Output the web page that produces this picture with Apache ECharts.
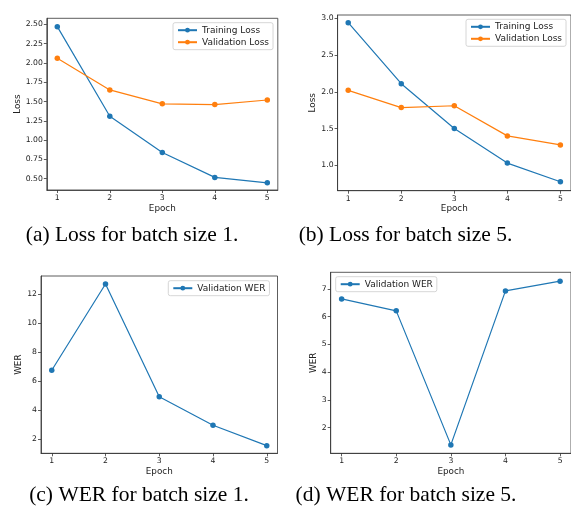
<!DOCTYPE html>
<html><head><meta charset="utf-8">
<script src="https://cdn.jsdelivr.net/npm/echarts@6/dist/echarts.min.js"></script>
<style>html,body{margin:0;padding:0;background:#fff}#c{width:571px;height:520px}</style>
</head><body><div id="c"></div><script>
const epochs=[1,2,3,4,5];
const trainLossBs1=[2.47,1.31,0.84,0.517,0.447];
const valLossBs1=[2.06,1.65,1.47,1.46,1.52];
const trainLossBs5=[2.94,2.11,1.50,1.03,0.775];
const valLossBs5=[2.02,1.785,1.81,1.40,1.277];
const valWerBs1=[6.76,12.71,4.93,2.97,1.56];
const valWerBs5=[6.64,6.21,1.38,6.93,7.28];
const xTicks=[1,2,3,4,5];
const yTicksA=[0.5,0.75,1.0,1.25,1.5,1.75,2.0,2.25,2.5];
const yTicksB=[1.0,1.5,2.0,2.5,3.0];
const yTicksC=[2,4,6,8,10,12];
const yTicksD=[2,3,4,5,6,7];
const captions=['(a) Loss for batch size 1.','(b) Loss for batch size 5.','(c) WER for batch size 1.','(d) WER for batch size 5.'];

const BLUE='#1f77b4', ORANGE='#ff7f0e';
const SANS='DejaVu Sans';
const pairs=a=>epochs.map((e,i)=>[e,a[i]]);

const grids=[
 {left:46.8, top:18.3, width:231, height:171.7},
 {left:337.6, top:15, width:234.8, height:175.7},
 {left:41, top:276, width:236.5, height:177.3},
 {left:330.7, top:272.3, width:242, height:181}
].map(g=>Object.assign({show:true,borderColor:'#333',borderWidth:0.8,backgroundColor:'transparent'},g));

const yCfg=[
 {min:0.354,max:2.578,ticks:yTicksA,dec:2,name:'Loss',gap:20},
 {min:0.654,max:3.045,ticks:yTicksB,dec:1,name:'Loss',gap:18},
 {min:1.034,max:13.26,ticks:yTicksC,dec:0,name:'WER',gap:16},
 {min:1.077,max:7.60,ticks:yTicksD,dec:0,name:'WER',gap:12}
];

const axisCommon={
 axisLine:{show:true,lineStyle:{color:'#333',width:0.8}},
 axisTick:{show:true,inside:false,length:3,lineStyle:{color:'#333',width:0.8}},
 splitLine:{show:false}
};

const xAxis=grids.map((g,i)=>Object.assign({},axisCommon,{
 type:'value',gridIndex:i,min:0.8,max:5.2,
 name:'Epoch',nameLocation:'middle',nameGap:14,
 nameTextStyle:{fontFamily:SANS,fontSize:8.8,color:'#222'},
 axisTick:Object.assign({},axisCommon.axisTick,{customValues:xTicks}),
 axisLabel:{customValues:xTicks,fontFamily:SANS,fontSize:7.7,color:'#222',margin:4}
}));

const yAxis=yCfg.map((c,i)=>Object.assign({},axisCommon,{
 type:'value',gridIndex:i,min:c.min,max:c.max,
 name:c.name,nameLocation:'middle',nameGap:c.gap,nameRotate:90,
 nameTextStyle:{fontFamily:SANS,fontSize:8.8,color:'#222'},
 axisTick:Object.assign({},axisCommon.axisTick,{customValues:c.ticks}),
 axisLabel:{customValues:c.ticks,fontFamily:SANS,fontSize:7.7,color:'#222',margin:4,
   formatter:v=>v.toFixed(c.dec)}
}));

function line(name,data,color,gi){
 return {type:'line',name:name,xAxisIndex:gi,yAxisIndex:gi,data:pairs(data),
  symbol:'circle',symbolSize:5.5,showSymbol:true,
  lineStyle:{color:color,width:1.2},itemStyle:{color:color},
  emphasis:{disabled:true},animation:false};
}

const series=[
 line('Training Loss',trainLossBs1,BLUE,0),
 line('Validation Loss',valLossBs1,ORANGE,0),
 line('Training Loss',trainLossBs5,BLUE,1),
 line('Validation Loss',valLossBs5,ORANGE,1),
 line('Validation WER',valWerBs1,BLUE,2),
 line('Validation WER',valWerBs5,BLUE,3)
];

function legend(names,left,top){
 return {data:names,orient:'vertical',left:left,top:top,padding:[3,4,3,4],
  itemWidth:19,itemHeight:6,itemGap:3,selectedMode:false,
  textStyle:{fontFamily:SANS,fontSize:9,color:'#222'},
  borderColor:'#ccc',borderWidth:0.8,borderRadius:2,backgroundColor:'rgba(255,255,255,0.8)'};
}
const legends=[
 legend(['Training Loss','Validation Loss'],173,22.7),
 legend(['Training Loss','Validation Loss'],466,19.3),
 legend(['Validation WER'],168.3,280.7),
 legend(['Validation WER'],335.7,276.7)
];

const capPos=[[132,235.5],[405.5,235.5],[139,495.5],[406,495.5]];
const graphic=captions.map((t,i)=>({type:'text',x:capPos[i][0],y:capPos[i][1],
 style:{text:t,fontFamily:'Liberation Serif',fontSize:21.5,fill:'#000',align:'center',verticalAlign:'middle'}}));

const chart=echarts.init(document.getElementById('c'),null,{renderer:'canvas'});
chart.setOption({backgroundColor:'#fff',animation:false,grid:grids,xAxis:xAxis,yAxis:yAxis,
 series:series,legend:legends,graphic:graphic});
</script></body></html>
